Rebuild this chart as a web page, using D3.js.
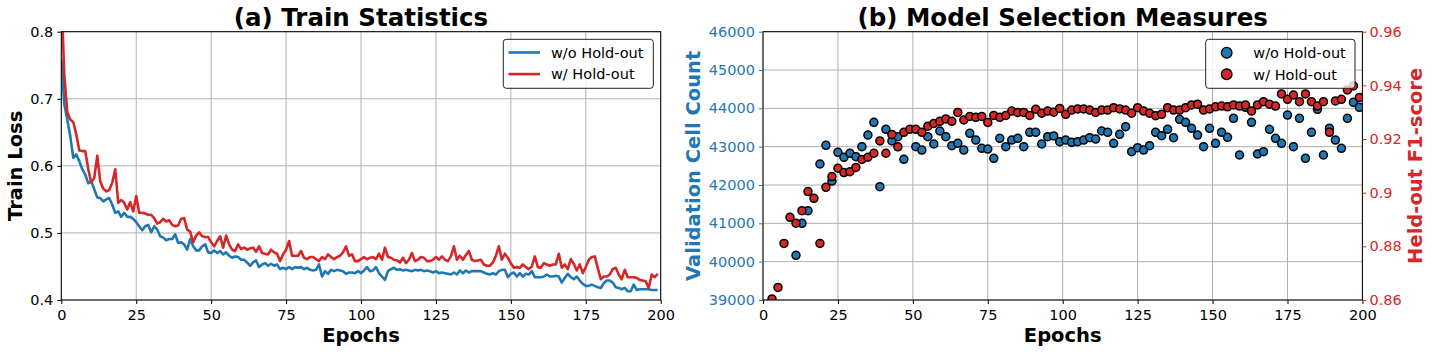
<!DOCTYPE html>
<html>
<head>
<meta charset="utf-8">
<script src="https://cdn.jsdelivr.net/npm/d3@7"></script>
<style>
    body { margin: 0; background: #fff; }
    svg text { font-family: "DejaVu Sans", sans-serif; }
</style>
</head>
<body>
<svg id="chart" width="1432" height="352"></svg>
<script>
// ---------------------------------------------------------------- data
// train loss per epoch (index = epoch 0..199)
let lossWithout = [
    0.760, 0.692, 0.669, 0.644, 0.612, 0.617, 0.607, 0.595, 0.587, 0.574,
    0.577, 0.565, 0.553, 0.552, 0.547, 0.550, 0.552, 0.542, 0.530, 0.532,
    0.524, 0.530, 0.524, 0.524, 0.521, 0.516, 0.510, 0.504, 0.510, 0.512,
    0.501, 0.510, 0.505, 0.495, 0.493, 0.489, 0.491, 0.491, 0.498, 0.485,
    0.486, 0.483, 0.475, 0.491, 0.480, 0.474, 0.474, 0.480, 0.483, 0.471,
    0.470, 0.474, 0.470, 0.473, 0.468, 0.471, 0.466, 0.463, 0.465, 0.464,
    0.460, 0.460, 0.456, 0.451, 0.456, 0.459, 0.449, 0.453, 0.455, 0.451,
    0.454, 0.451, 0.453, 0.446, 0.448, 0.446, 0.449, 0.446, 0.449, 0.448,
    0.449, 0.446, 0.448, 0.445, 0.444, 0.445, 0.453, 0.435, 0.443, 0.439,
    0.445, 0.443, 0.445, 0.444, 0.443, 0.439, 0.441, 0.441, 0.440, 0.443,
    0.440, 0.444, 0.449, 0.443, 0.444, 0.449, 0.440, 0.435, 0.430, 0.443,
    0.446, 0.448, 0.445, 0.446, 0.444, 0.445, 0.444, 0.443, 0.445, 0.444,
    0.445, 0.443, 0.444, 0.443, 0.441, 0.443, 0.440, 0.441, 0.440, 0.439,
    0.438, 0.441, 0.438, 0.444, 0.440, 0.444, 0.441, 0.443, 0.443, 0.443,
    0.443, 0.441, 0.439, 0.438, 0.440, 0.438, 0.443, 0.445, 0.445, 0.434,
    0.439, 0.441, 0.435, 0.440, 0.435, 0.439, 0.438, 0.443, 0.434, 0.434,
    0.434, 0.435, 0.438, 0.435, 0.435, 0.436, 0.435, 0.426, 0.433, 0.439,
    0.434, 0.431, 0.435, 0.429, 0.424, 0.421, 0.421, 0.423, 0.421, 0.419,
    0.418, 0.425, 0.429, 0.429, 0.426, 0.419, 0.418, 0.416, 0.418, 0.413,
    0.413, 0.423, 0.415, 0.416, 0.416, 0.416, 0.416, 0.415, 0.415, 0.415
];
let lossWith = [
    0.860, 0.735, 0.680, 0.669, 0.665, 0.647, 0.623, 0.622, 0.622, 0.595,
    0.575, 0.582, 0.615, 0.577, 0.566, 0.562, 0.564, 0.575, 0.595, 0.545,
    0.549, 0.545, 0.535, 0.546, 0.532, 0.555, 0.530, 0.530, 0.529, 0.527,
    0.527, 0.522, 0.514, 0.516, 0.521, 0.517, 0.519, 0.512, 0.510, 0.511,
    0.521, 0.522, 0.505, 0.502, 0.486, 0.496, 0.501, 0.495, 0.494, 0.494,
    0.486, 0.480, 0.488, 0.495, 0.478, 0.496, 0.483, 0.475, 0.473, 0.483,
    0.476, 0.478, 0.475, 0.477, 0.478, 0.472, 0.480, 0.470, 0.469, 0.468,
    0.475, 0.471, 0.469, 0.458, 0.468, 0.475, 0.488, 0.466, 0.466, 0.466,
    0.473, 0.463, 0.461, 0.464, 0.464, 0.461, 0.458, 0.464, 0.461, 0.468,
    0.464, 0.461, 0.464, 0.466, 0.471, 0.480, 0.466, 0.468, 0.458, 0.458,
    0.461, 0.464, 0.461, 0.463, 0.464, 0.461, 0.469, 0.460, 0.478, 0.464,
    0.463, 0.460, 0.459, 0.456, 0.463, 0.455, 0.460, 0.470, 0.458, 0.460,
    0.464, 0.463, 0.458, 0.458, 0.460, 0.464, 0.460, 0.465, 0.460, 0.458,
    0.465, 0.480, 0.460, 0.466, 0.460, 0.467, 0.473, 0.460, 0.458, 0.459,
    0.460, 0.453, 0.451, 0.451, 0.456, 0.466, 0.480, 0.460, 0.469, 0.463,
    0.455, 0.448, 0.449, 0.448, 0.453, 0.449, 0.446, 0.450, 0.465, 0.449,
    0.448, 0.455, 0.453, 0.451, 0.453, 0.453, 0.469, 0.448, 0.453, 0.446,
    0.461, 0.454, 0.444, 0.453, 0.440, 0.449, 0.460, 0.464, 0.465, 0.448,
    0.431, 0.435, 0.435, 0.438, 0.446, 0.448, 0.438, 0.431, 0.445, 0.434,
    0.434, 0.434, 0.433, 0.430, 0.429, 0.428, 0.418, 0.438, 0.434, 0.439
];

// model selection measures, evaluated every 2nd epoch (1, 3, ..., 199)
let evalEpochs = d3.range(1, 200, 2);
let cellCountWithout = [
    null, null, null, null, null, 40165, 41000, 41330, null, 42548,
    43035, 42104, 42852, 42722, 42826, 42739, 43000, 43304, 43635, 41957,
    43452, 43148, 43261, 42670, null, 43000, 42913, 43261, 43070, 43409,
    43261, 43026, 43087, 42913, 43348, 43174, 42957, 42939, 42696, 43217,
    43000, 43174, 43217, 43000, 43374, 43374, 43070, 43261, 43280, 43130,
    43174, 43113, 43130, 43174, 43235, 43200, 43409, 43374, 43087, 43322,
    43522, 42870, 42974, 42913, 43026, 43374, 43287, 43452, 43235, 43713,
    43635, 43478, 43304, 43000, 43478, 43087, 43374, 43243, 43739, 42783,
    44026, 43635, 42809, 42870, 43452, 43217, 43087, 43826, 43000, 43739,
    42696, 43374, 43974, 42783, 43478, 43174, 42957, 43739, 44157, 44026
];
let f1With = [
    null, 0.8604, 0.8647, 0.8811, 0.8908, 0.8886, 0.8933, 0.9004, 0.8979, 0.8811,
    0.9020, 0.9060, 0.9091, 0.9075, 0.9078, 0.9094, 0.9124, 0.9132, 0.9147, 0.9193,
    0.9147, 0.9217, 0.9171, 0.9225, 0.9236, 0.9236, 0.9225, 0.9248, 0.9258, 0.9266,
    0.9275, 0.9266, 0.9299, 0.9271, 0.9284, 0.9281, 0.9284, 0.9262, 0.9288, 0.9281,
    0.9288, 0.9304, 0.9299, 0.9299, 0.9288, 0.9311, 0.9296, 0.9304, 0.9300, 0.9314,
    0.9292, 0.9308, 0.9312, 0.9312, 0.9308, 0.9299, 0.9308, 0.9308, 0.9317, 0.9312,
    0.9308, 0.9296, 0.9317, 0.9304, 0.9296, 0.9287, 0.9292, 0.9317, 0.9308, 0.9308,
    0.9317, 0.9327, 0.9330, 0.9308, 0.9312, 0.9320, 0.9323, 0.9320, 0.9327, 0.9323,
    0.9327, 0.9304, 0.9327, 0.9339, 0.9330, 0.9323, 0.9368, 0.9348, 0.9364, 0.9339,
    0.9368, 0.9339, 0.9323, 0.9339, 0.9225, 0.9342, 0.9348, 0.9383, 0.9398, 0.9355
];

let epochTicks = [0, 25, 50, 75, 100, 125, 150, 175, 200];
let lossTicks = [0.4, 0.5, 0.6, 0.7, 0.8];
let cellTicks = [39000, 40000, 41000, 42000, 43000, 44000, 45000, 46000];
let f1Ticks = [0.86, 0.88, 0.90, 0.92, 0.94, 0.96];
let seriesNames = ['w/o Hold-out', 'w/ Hold-out'];

// ---------------------------------------------------------------- drawing
const BLUE = '#1f77b4', RED = '#d62728', GRID = '#b0b0b0';
const TICK_FONT = '14.5px', LABEL_FONT = '19.5px', TITLE_FONT = '24.5px';

let svg = d3.select('#chart');
svg.append('rect').attr('width', 1432).attr('height', 352).attr('fill', '#fff');

let panelA = {left: 61.3, right: 660.7, top: 31.7, bottom: 300};
let panelB = {left: 763, right: 1362.4, top: 31.7, bottom: 300};

function styleAxis(g, color) {
    g.select('.domain').remove();
    g.selectAll('.tick line').attr('stroke', color);
    g.selectAll('.tick text')
        .attr('fill', color)
        .style('font-size', TICK_FONT);
}

function drawGrid(g, x, y, xt, yt, p) {
    g.append('g').selectAll('line').data(xt).enter().append('line')
        .attr('x1', d => x(d)).attr('x2', d => x(d))
        .attr('y1', p.top).attr('y2', p.bottom)
        .attr('stroke', GRID).attr('stroke-width', 1);
    g.append('g').selectAll('line').data(yt).enter().append('line')
        .attr('x1', p.left).attr('x2', p.right)
        .attr('y1', d => y(d)).attr('y2', d => y(d))
        .attr('stroke', GRID).attr('stroke-width', 1);
}

function clipFor(id, p) {
    svg.append('clipPath').attr('id', id).append('rect')
        .attr('x', p.left).attr('y', p.top)
        .attr('width', p.right - p.left).attr('height', p.bottom - p.top);
}

function frame(p) {
    svg.append('rect')
        .attr('x', p.left).attr('y', p.top)
        .attr('width', p.right - p.left).attr('height', p.bottom - p.top)
        .attr('fill', 'none').attr('stroke', '#000').attr('stroke-width', 1);
}

function rotatedLabel(x, y, text, color) {
    svg.append('text')
        .attr('transform', 'translate(' + x + ',' + y + ') rotate(-90)')
        .attr('text-anchor', 'middle')
        .attr('fill', color)
        .style('font-size', LABEL_FONT).style('font-weight', 'bold')
        .text(text);
}

function title(p, text) {
    svg.append('text')
        .attr('x', (p.left + p.right) / 2).attr('y', 26)
        .attr('text-anchor', 'middle')
        .style('font-size', TITLE_FONT).style('font-weight', 'bold')
        .text(text);
}

function xLabel(p) {
    svg.append('text')
        .attr('x', (p.left + p.right) / 2).attr('y', 342)
        .attr('text-anchor', 'middle')
        .style('font-size', LABEL_FONT).style('font-weight', 'bold')
        .text('Epochs');
}

const trim = digits => d => String(+d.toFixed(digits));

// ---------------------------------------------------------------- (a) train statistics
(function () {
    let p = panelA;
    let x = d3.scaleLinear().domain([0, 200]).range([p.left, p.right]);
    let y = d3.scaleLinear().domain([0.4, 0.8]).range([p.bottom, p.top]);

    drawGrid(svg.append('g'), x, y, epochTicks, lossTicks, p);
    clipFor('clipA', p);

    let line = d3.line()
        .defined(d => d != null)
        .x((d, i) => x(i))
        .y(d => y(d));

    let lines = svg.append('g').attr('clip-path', 'url(#clipA)');
    [[lossWithout, BLUE], [lossWith, RED]].forEach(([vals, color]) => {
        lines.append('path')
            .datum(vals)
            .attr('d', line)
            .attr('fill', 'none')
            .attr('stroke', color)
            .attr('stroke-width', 2.6)
            .attr('stroke-linejoin', 'round');
    });

    frame(p);

    svg.append('g').attr('transform', 'translate(0,' + p.bottom + ')')
        .call(d3.axisBottom(x).tickValues(epochTicks).tickSize(4).tickPadding(5.5).tickFormat(d3.format('d')))
        .call(g => styleAxis(g, '#000'));
    svg.append('g').attr('transform', 'translate(' + p.left + ',0)')
        .call(d3.axisLeft(y).tickValues(lossTicks).tickSize(4).tickPadding(4).tickFormat(trim(1)))
        .call(g => styleAxis(g, '#000'));

    title(p, '(a) Train Statistics');
    xLabel(p);
    rotatedLabel(21.5, (p.top + p.bottom) / 2, 'Train Loss', '#000');

    // legend
    let lg = svg.append('g');
    lg.append('rect')
        .attr('x', 503.3).attr('y', 39.3).attr('width', 150).attr('height', 49)
        .attr('rx', 3).attr('fill', '#fff').attr('fill-opacity', 0.8)
        .attr('stroke', '#222').attr('stroke-width', 1);
    [BLUE, RED].forEach((color, i) => {
        let cy = 52.5 + i * 21.6;
        lg.append('line')
            .attr('x1', 508.5).attr('x2', 540).attr('y1', cy).attr('y2', cy)
            .attr('stroke', color).attr('stroke-width', 2.6);
        lg.append('text')
            .attr('x', 551).attr('y', cy + 5.2)
            .style('font-size', TICK_FONT)
            .text(seriesNames[i]);
    });
})();

// ---------------------------------------------------------------- (b) model selection measures
(function () {
    let p = panelB;
    let x = d3.scaleLinear().domain([0, 200]).range([p.left, p.right]);
    let yCell = d3.scaleLinear().domain([39000, 46000]).range([p.bottom, p.top]);
    let yF1 = d3.scaleLinear().domain([0.86, 0.96]).range([p.bottom, p.top]);

    drawGrid(svg.append('g'), x, yCell, epochTicks, cellTicks, p);
    clipFor('clipB', p);

    let pts = svg.append('g').attr('clip-path', 'url(#clipB)');
    pts.append('g').selectAll('circle')
        .data(evalEpochs.map((e, i) => ({e: e, v: cellCountWithout[i]})).filter(d => d.v != null))
        .enter().append('circle')
        .attr('cx', d => x(d.e)).attr('cy', d => yCell(d.v)).attr('r', 4)
        .attr('fill', BLUE).attr('stroke', '#000').attr('stroke-width', 1.5);
    pts.append('g').selectAll('circle')
        .data(evalEpochs.map((e, i) => ({e: e, v: f1With[i]})).filter(d => d.v != null))
        .enter().append('circle')
        .attr('cx', d => x(d.e)).attr('cy', d => yF1(d.v)).attr('r', 4)
        .attr('fill', RED).attr('stroke', '#000').attr('stroke-width', 1.5);

    frame(p);

    svg.append('g').attr('transform', 'translate(0,' + p.bottom + ')')
        .call(d3.axisBottom(x).tickValues(epochTicks).tickSize(4).tickPadding(5.5).tickFormat(d3.format('d')))
        .call(g => styleAxis(g, '#000'));
    svg.append('g').attr('transform', 'translate(' + p.left + ',0)')
        .call(d3.axisLeft(yCell).tickValues(cellTicks).tickSize(4).tickPadding(4).tickFormat(d3.format('d')))
        .call(g => styleAxis(g, BLUE));
    svg.append('g').attr('transform', 'translate(' + p.right + ',0)')
        .call(d3.axisRight(yF1).tickValues(f1Ticks).tickSize(4).tickPadding(3).tickFormat(trim(2)))
        .call(g => styleAxis(g, RED));

    title(p, '(b) Model Selection Measures');
    xLabel(p);
    rotatedLabel(700, (p.top + p.bottom) / 2, 'Validation Cell Count', BLUE);
    rotatedLabel(1421.5, (p.top + p.bottom) / 2, 'Held-out F1-score', RED);

    // legend
    let lg = svg.append('g');
    lg.append('rect')
        .attr('x', 1205.7).attr('y', 39.3).attr('width', 149.3).attr('height', 49)
        .attr('rx', 3).attr('fill', '#fff').attr('fill-opacity', 0.8)
        .attr('stroke', '#222').attr('stroke-width', 1);
    [BLUE, RED].forEach((color, i) => {
        let cy = 52.7 + i * 21.6;
        lg.append('circle')
            .attr('cx', 1226.7).attr('cy', cy).attr('r', 5.3)
            .attr('fill', color).attr('stroke', '#000').attr('stroke-width', 1.3);
        lg.append('text')
            .attr('x', 1253.3).attr('y', cy + 5.2)
            .style('font-size', TICK_FONT)
            .text(seriesNames[i]);
    });
})();
</script>
</body>
</html>
